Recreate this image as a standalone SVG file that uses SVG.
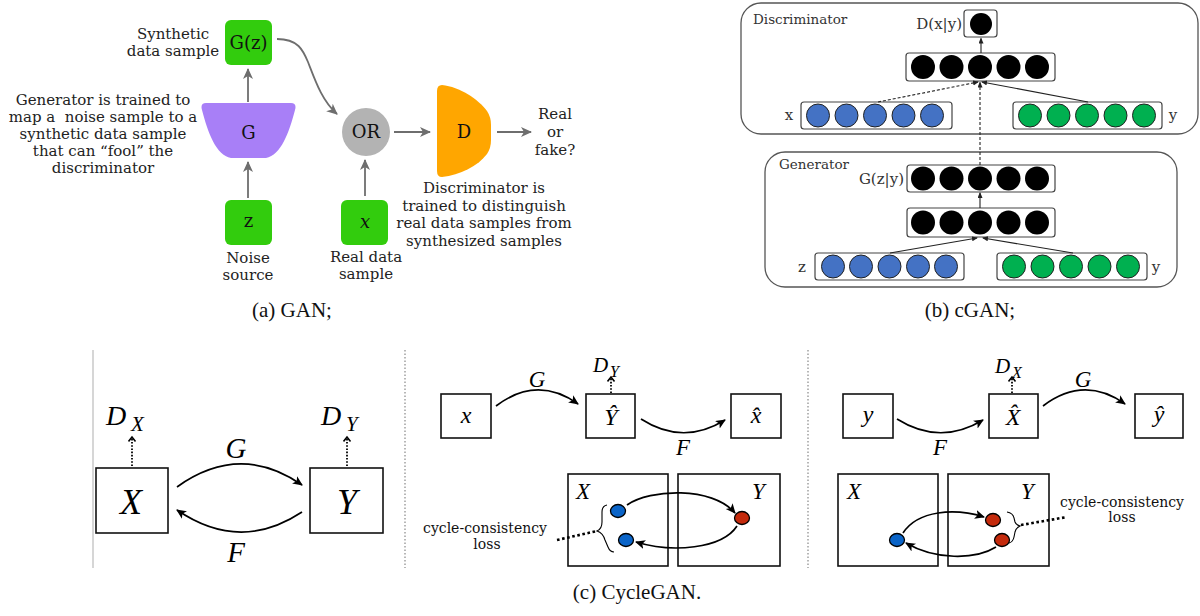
<svg xmlns="http://www.w3.org/2000/svg" width="1200" height="616" viewBox="0 0 1200 616">
<defs>
<style>
.gt{font-family:"DejaVu Serif",serif;font-size:15px;fill:#222;text-anchor:middle}
.gl{font-family:"DejaVu Serif",serif;font-size:18px;fill:#111;text-anchor:middle}
.ga{stroke:#6e6e6e;stroke-width:1.8;fill:none;marker-end:url(#mga)}
.cb{fill:#fff;stroke:#444;stroke-width:1.2}
.cl{fill:none;stroke:#555;stroke-width:1.3}
.ct{font-family:"DejaVu Serif",serif;font-size:13.5px;fill:#333}
.cm{font-family:"DejaVu Serif",serif;font-size:15px;fill:#333}
.bk{fill:#000}
.bl{fill:#4472c4;stroke:#222;stroke-width:1}
.gr{fill:#00b050;stroke:#222;stroke-width:1}
.ca{stroke:#222;stroke-width:1.1;fill:none;marker-end:url(#mca)}
.cap{font-family:"Liberation Serif",serif;font-size:21px;fill:#111;text-anchor:middle}
.bx{fill:#fff;stroke:#111;stroke-width:1.6}
.mi{font-family:"Liberation Serif",serif;font-style:italic;fill:#000}
.la{stroke:#000;stroke-width:1.7;fill:none;marker-end:url(#mla)}
.da{stroke:#000;stroke-width:1.8;stroke-dasharray:1.6 1.6;fill:none;marker-end:url(#mda)}
.cc{font-family:"DejaVu Serif",serif;font-size:14px;fill:#111;text-anchor:middle}
.bd{fill:#0a64c8;stroke:#000;stroke-width:1.3}
.rd{fill:#c42a0c;stroke:#000;stroke-width:1.3}
</style>
<marker id="mga" markerUnits="userSpaceOnUse" markerWidth="12" markerHeight="12" refX="10" refY="5" orient="auto"><path d="M0,0 L11,5 L0,10 L3,5 z" fill="#6e6e6e"/></marker>
<marker id="mca" markerUnits="userSpaceOnUse" markerWidth="8" markerHeight="8" refX="5" refY="2.5" orient="auto"><path d="M0,0 L6,2.5 L0,5 z" fill="#222"/></marker>
<marker id="mla" markerUnits="userSpaceOnUse" markerWidth="12" markerHeight="12" refX="9" refY="4.5" orient="auto"><path d="M0,0 L10,4.5 L0,9 L2.5,4.5 z" fill="#000"/></marker>
<marker id="mda" markerUnits="userSpaceOnUse" markerWidth="10" markerHeight="10" refX="5" refY="4" orient="auto"><path d="M0.5,0.5 L5,4 L0.5,7.5" stroke="#000" stroke-width="1.6" fill="none"/></marker>
<filter id="soft" x="-10%" y="-10%" width="120%" height="120%"><feGaussianBlur stdDeviation="0.7"/></filter>
</defs>
<rect width="1200" height="616" fill="#fff"/>

<!-- (a) GAN -->
<g id="gan-text-gen">
<text class="gt" x="103" y="105">Generator is trained to</text>
<text class="gt" x="103" y="122">map a&#160; noise sample to a</text>
<text class="gt" x="103" y="139">synthetic data sample</text>
<text class="gt" x="103" y="156">that can “fool” the</text>
<text class="gt" x="103" y="173">discriminator</text>
</g>
<g id="gan-Gz">
<rect x="225" y="20" width="47" height="45" rx="6" fill="#33cc0a" filter="url(#soft)"/>
<text class="gl" x="248.5" y="49">G(z)</text>
<text class="gt" x="173" y="39">Synthetic</text>
<text class="gt" x="173" y="56">data sample</text>
</g>
<g id="gan-G">
<path d="M206,103 L291,103 Q297,103 295,110 C289,133 281,155 266,158 L231,158 C216,155 208,133 202,110 Q200,103 206,103 Z" fill="#a87ff7" filter="url(#soft)"/>
<text class="gl" x="248.5" y="139">G</text>
</g>
<g id="gan-z">
<rect x="225" y="200" width="47" height="45" rx="6" fill="#33cc0a" filter="url(#soft)"/>
<text class="gl" x="248.5" y="227">z</text>
<text class="gt" x="248" y="263">Noise</text>
<text class="gt" x="248" y="280">source</text>
</g>
<g id="gan-OR">
<circle cx="366" cy="132" r="24" fill="#b3b3b3" filter="url(#soft)"/>
<text class="gl" x="366" y="138">OR</text>
</g>
<g id="gan-x">
<rect x="341" y="200" width="47" height="45" rx="6" fill="#33cc0a" filter="url(#soft)"/>
<text class="gl" x="365" y="228" font-style="italic">x</text>
<text class="gt" x="366" y="262">Real data</text>
<text class="gt" x="366" y="279">sample</text>
</g>
<g id="gan-D">
<path d="M442,85 C460,87 478,99 487,111 Q491,117 491,125 L491,140 Q491,148 487,154 C478,166 460,175 442,177 Q437,177 437,171 L437,91 Q437,85 442,85 Z" fill="#ffa600" filter="url(#soft)"/>
<text class="gl" x="464" y="138">D</text>
</g>
<g id="gan-out">
<text class="gt" x="555" y="119">Real</text>
<text class="gt" x="555" y="137">or</text>
<text class="gt" x="555" y="155">fake?</text>
</g>
<g id="gan-text-disc">
<text class="gt" x="484" y="193">Discriminator is</text>
<text class="gt" x="484" y="211">trained to distinguish</text>
<text class="gt" x="484" y="228">real data samples from</text>
<text class="gt" x="484" y="246">synthesized samples</text>
</g>
<g id="gan-connectors">
<line class="ga" x1="248" y1="102" x2="248" y2="69"/>
<line class="ga" x1="248" y1="198" x2="248" y2="162"/>
<line class="ga" x1="365" y1="196" x2="365" y2="160"/>
<line class="ga" x1="394" y1="132" x2="430" y2="132"/>
<line class="ga" x1="497" y1="132" x2="531" y2="132"/>
<path class="ga" d="M277,39 C298,39 303,50 308,62 C315,80 322,101 337,114"/>
</g>
<text class="cap" x="292" y="317">(a) GAN;</text>

<!-- (b) cGAN -->
<g id="cgan-disc">
<rect class="cl" x="741" y="3" width="457" height="131" rx="20"/>
<text class="ct" x="753" y="24">Discriminator</text>
</g>
<g id="cgan-dout">
<rect class="cb" x="964" y="10" width="33" height="27" rx="3"/>
<circle class="bk" cx="981" cy="24" r="11"/>
<text class="cm" x="962" y="29" text-anchor="end">D(x|y)</text>
</g>
<g id="cgan-dhidden">
<rect class="cb" x="906" y="53" width="149" height="28" rx="3"/>
<circle class="bk" cx="923" cy="67" r="12"/><circle class="bk" cx="951.5" cy="67" r="12"/><circle class="bk" cx="980" cy="67" r="12"/><circle class="bk" cx="1008.5" cy="67" r="12"/><circle class="bk" cx="1037" cy="67" r="12"/>
</g>
<g id="cgan-dx">
<rect class="cb" x="801" y="102" width="151" height="27" rx="3"/>
<circle class="bl" cx="818" cy="115.5" r="11.5"/><circle class="bl" cx="846.5" cy="115.5" r="11.5"/><circle class="bl" cx="875" cy="115.5" r="11.5"/><circle class="bl" cx="903.5" cy="115.5" r="11.5"/><circle class="bl" cx="932" cy="115.5" r="11.5"/>
<text class="cm" x="789" y="120" text-anchor="middle">x</text>
</g>
<g id="cgan-dy">
<rect class="cb" x="1013" y="102" width="149" height="27" rx="3"/>
<circle class="gr" cx="1030" cy="115.5" r="11.5"/><circle class="gr" cx="1058.5" cy="115.5" r="11.5"/><circle class="gr" cx="1087" cy="115.5" r="11.5"/><circle class="gr" cx="1115.5" cy="115.5" r="11.5"/><circle class="gr" cx="1144" cy="115.5" r="11.5"/>
<text class="cm" x="1173" y="120" text-anchor="middle">y</text>
</g>
<g id="cgan-gen">
<rect class="cl" x="765" y="152" width="412" height="135" rx="20"/>
<text class="ct" x="779" y="169">Generator</text>
</g>
<g id="cgan-gout">
<rect class="cb" x="907" y="165" width="148" height="27" rx="3"/>
<circle class="bk" cx="923" cy="178.5" r="12"/><circle class="bk" cx="951.5" cy="178.5" r="12"/><circle class="bk" cx="980" cy="178.5" r="12"/><circle class="bk" cx="1008.5" cy="178.5" r="12"/><circle class="bk" cx="1037" cy="178.5" r="12"/>
<text class="cm" x="904" y="184" text-anchor="end">G(z|y)</text>
</g>
<g id="cgan-ghidden">
<rect class="cb" x="907" y="208" width="148" height="29" rx="3"/>
<circle class="bk" cx="923" cy="222.5" r="12"/><circle class="bk" cx="951.5" cy="222.5" r="12"/><circle class="bk" cx="980" cy="222.5" r="12"/><circle class="bk" cx="1008.5" cy="222.5" r="12"/><circle class="bk" cx="1037" cy="222.5" r="12"/>
</g>
<g id="cgan-gz">
<rect class="cb" x="815" y="253" width="149" height="27" rx="3"/>
<circle class="bl" cx="833" cy="266.5" r="11.5"/><circle class="bl" cx="861" cy="266.5" r="11.5"/><circle class="bl" cx="889.5" cy="266.5" r="11.5"/><circle class="bl" cx="918" cy="266.5" r="11.5"/><circle class="bl" cx="946" cy="266.5" r="11.5"/>
<text class="cm" x="802" y="272" text-anchor="middle">z</text>
</g>
<g id="cgan-gy">
<rect class="cb" x="997" y="253" width="150" height="27" rx="3"/>
<circle class="gr" cx="1014" cy="266.5" r="11.5"/><circle class="gr" cx="1042.5" cy="266.5" r="11.5"/><circle class="gr" cx="1071" cy="266.5" r="11.5"/><circle class="gr" cx="1099.5" cy="266.5" r="11.5"/><circle class="gr" cx="1128" cy="266.5" r="11.5"/>
<text class="cm" x="1156" y="272" text-anchor="middle">y</text>
</g>
<g id="cgan-connectors">
<line class="ca" x1="981" y1="53" x2="981" y2="38.5"/>
<line class="ca" x1="878" y1="102" x2="978" y2="82" stroke-dasharray="3 2"/>
<line class="ca" x1="1088" y1="102" x2="982" y2="82"/>
<line class="ca" x1="980" y1="165" x2="980" y2="82.5" stroke-dasharray="3 2"/>
<line class="ca" x1="980" y1="208" x2="980" y2="193"/>
<line class="ca" x1="890" y1="253" x2="977" y2="238"/>
<line class="ca" x1="1073" y1="253" x2="983" y2="238"/>
</g>
<text class="cap" x="970" y="317">(b) cGAN;</text>

<!-- (c) CycleGAN -->
<g id="separators">
<line x1="93" y1="350" x2="93" y2="568" stroke="#bbb" stroke-width="1.2"/>
<line x1="405" y1="350" x2="405" y2="568" stroke="#888" stroke-width="1.2" stroke-dasharray="1.5 2"/>
<line x1="808" y1="350" x2="808" y2="568" stroke="#888" stroke-width="1.2" stroke-dasharray="1.5 2"/>
</g>
<g id="cyc-X">
<rect class="bx" x="96" y="468" width="72" height="65"/>
<text class="mi" x="131" y="514" font-size="36" text-anchor="middle">X</text>
<text class="mi" x="106" y="425" font-size="28">D</text>
<text class="mi" x="131" y="431" font-size="21">X</text>
</g>
<g id="cyc-Y">
<rect class="bx" x="310" y="468" width="73" height="65"/>
<text class="mi" x="347" y="514" font-size="36" text-anchor="middle">Y</text>
<text class="mi" x="321" y="425" font-size="28">D</text>
<text class="mi" x="346" y="431" font-size="21">Y</text>
</g>
<g id="cyc-labels1">
<text class="mi" x="236" y="458" font-size="29" text-anchor="middle">G</text>
<text class="mi" x="236" y="562" font-size="29" text-anchor="middle">F</text>
</g>

<g id="cyc2-x"><rect class="bx" x="441" y="394" width="50" height="44"/><text class="mi" x="466" y="423" font-size="24" text-anchor="middle">x</text></g>
<g id="cyc2-Yhat"><rect class="bx" x="586" y="394" width="49" height="44"/><text class="mi" x="611" y="425" font-size="24" text-anchor="middle">Ŷ</text>
<text class="mi" x="593" y="372" font-size="21">D</text><text class="mi" x="610" y="377" font-size="16">Y</text></g>
<g id="cyc2-xhat"><rect class="bx" x="731" y="394" width="50" height="44"/><text class="mi" x="756" y="423" font-size="24" text-anchor="middle">x̂</text></g>
<g id="cyc2-labels">
<text class="mi" x="537" y="387" font-size="23" text-anchor="middle">G</text>
<text class="mi" x="683" y="455" font-size="23" text-anchor="middle">F</text>
</g>
<g id="cyc2-XY">
<rect class="bx" x="568" y="474" width="100" height="92"/>
<rect class="bx" x="678" y="474" width="102" height="92"/>
<text class="mi" x="576" y="499" font-size="23">X</text>
<text class="mi" x="752" y="499" font-size="23">Y</text>
<ellipse class="bd" cx="618" cy="511" rx="7.5" ry="6.5"/>
<ellipse class="rd" cx="742" cy="518" rx="7.5" ry="6.5"/>
<ellipse class="bd" cx="626" cy="540" rx="7.5" ry="6.5"/>
<path d="M607,505 Q602,506 602,512 L602,522 Q602,529 597,531 Q603,533 605,540 L608,547 Q610,552 614,552" fill="none" stroke="#000" stroke-width="1.1"/>
<text class="cc" x="485" y="533">cycle-consistency</text>
<text class="cc" x="487" y="549">loss</text>
</g>

<g id="cyc3-y"><rect class="bx" x="843" y="394" width="50" height="44"/><text class="mi" x="868" y="422" font-size="24" text-anchor="middle">y</text></g>
<g id="cyc3-Xhat"><rect class="bx" x="989" y="394" width="49" height="44"/><text class="mi" x="1013" y="425" font-size="24" text-anchor="middle">X̂</text>
<text class="mi" x="995" y="373" font-size="21">D</text><text class="mi" x="1012" y="378" font-size="16">X</text></g>
<g id="cyc3-yhat"><rect class="bx" x="1135" y="394" width="48" height="44"/><text class="mi" x="1159" y="422" font-size="24" text-anchor="middle">ŷ</text></g>
<g id="cyc3-labels">
<text class="mi" x="940" y="455" font-size="23" text-anchor="middle">F</text>
<text class="mi" x="1083" y="387" font-size="23" text-anchor="middle">G</text>
</g>
<g id="cyc3-XY">
<rect class="bx" x="838" y="474" width="100" height="92"/>
<rect class="bx" x="948" y="474" width="101" height="92"/>
<text class="mi" x="847" y="499" font-size="23">X</text>
<text class="mi" x="1021" y="499" font-size="23">Y</text>
<ellipse class="bd" cx="897" cy="540" rx="7.5" ry="6.5"/>
<ellipse class="rd" cx="993" cy="520" rx="7.5" ry="6.5"/>
<ellipse class="rd" cx="1002" cy="540" rx="7.5" ry="6.5"/>
<path d="M1007,512 Q1013,513 1014,518 L1015,522 Q1016,525 1020,526 Q1016,528 1015,532 L1014,537 Q1013,542 1009,543" fill="none" stroke="#000" stroke-width="1.1"/>
<text class="cc" x="1122" y="507">cycle-consistency</text>
<text class="cc" x="1122" y="522">loss</text>
</g>

<g id="cyc-connectors">
<path class="la" d="M177,487 Q240,442 302,485"/>
<path class="la" d="M302,512 Q240,553 177,510"/>
<line class="da" x1="132" y1="466" x2="132" y2="437"/>
<line class="da" x1="347" y1="466" x2="347" y2="437"/>
<path class="la" d="M496,406 Q537,375 578,404"/>
<path class="la" d="M641,419 Q683,446 725,420"/>
<line class="da" x1="611" y1="393" x2="611" y2="377"/>
<path class="la" d="M897,419 Q940,446 983,420"/>
<path class="la" d="M1043,406 Q1084,375 1125,404"/>
<line class="da" x1="1012" y1="393" x2="1012" y2="377"/>
<path class="la" d="M627,505 C650,489 712,486 735,513"/>
<path class="la" d="M737,526 C722,549 672,553 636,542"/>
<path class="la" d="M903,533 C918,510 955,508 984,517"/>
<path class="la" d="M996,547 C975,560 935,560 906,543"/>
<line x1="557" y1="540" x2="597" y2="531" stroke="#000" stroke-width="2.6" stroke-dasharray="2.6 2.6"/>
<line x1="1021" y1="525" x2="1067" y2="517" stroke="#000" stroke-width="2.6" stroke-dasharray="2.6 2.6"/>
</g>
<text class="cap" x="637" y="599">(c) CycleGAN.</text>
</svg>
